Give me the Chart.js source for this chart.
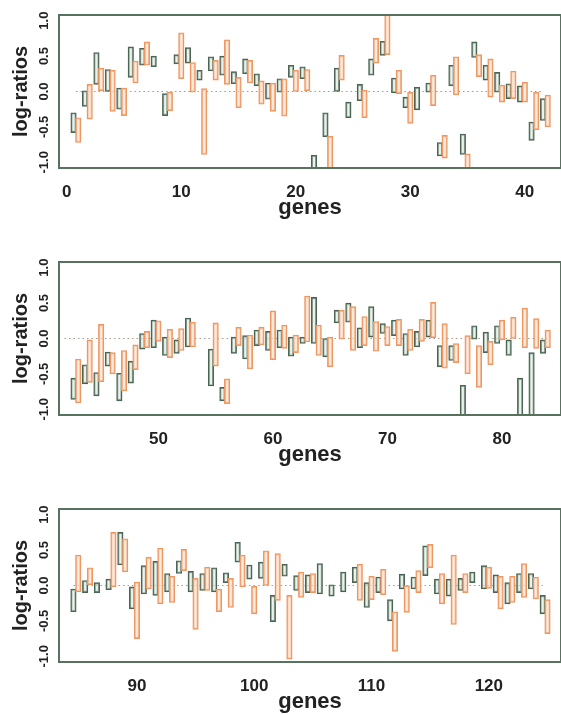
<!DOCTYPE html>
<html>
<head>
<meta charset="utf-8">
<title>log-ratios by gene</title>
<style>
  html, body { margin: 0; padding: 0; background: #fff; }
  .panel { position: absolute; left: 0; }
</style>
</head>
<body>
<canvas id="p1" class="panel" style="top:0px" width="561" height="221"></canvas>
<canvas id="p2" class="panel" style="top:247px" width="561" height="221"></canvas>
<canvas id="p3" class="panel" style="top:494px" width="561" height="221"></canvas>

<script src="https://cdn.jsdelivr.net/npm/chart.js"></script>
<script>
// first gene of each panel; genes run on consecutively
const firstGene = [1, 43, 85];

// y tick labels (all panels)
const yTicks = [-1, -0.5, 0, 0.5, 1];

// x tick labels per panel
const xTicks1 = [0, 10, 20, 30, 40];
const xTicks2 = [50, 60, 70, 80];
const xTicks3 = [90, 100, 110, 120];

// dotted zero line, from / to (gene units)
const zeroFrom = [0.8, 41.8, 84.6];
const zeroTo = [41.6, 84.0, 124.6];

// panel 1, genes 1-42: [low, high] log-ratio boxes
const green1 = [
  [-0.58, -0.30], [-0.21, 0.01], [0.10, 0.55], [0.00, 0.31], [-0.25, 0.05],
  [0.20, 0.63], [0.37, 0.61], [0.35, 0.50], [-0.34, -0.03], [0.39, 0.52],
  [0.40, 0.62], [0.16, 0.30], [0.29, 0.49], [0.23, 0.50], [0.11, 0.28],
  [0.25, 0.46], [0.08, 0.25], [-0.11, 0.12], [-0.01, 0.18], [0.20, 0.37],
  [0.18, 0.35], [-1.20, -0.90], [-0.64, -0.30], [0.00, 0.33], [-0.37, -0.15],
  [-0.13, 0.10], [0.23, 0.46], [0.51, 0.71], [-0.02, 0.19], [-0.23, -0.08],
  [-0.26, 0.06], [-0.01, 0.12], [-0.91, -0.72], [0.08, 0.37], [-0.89, -0.60],
  [0.48, 0.70], [0.16, 0.37], [-0.01, 0.27], [-0.10, 0.11], [-0.15, 0.08],
  [-0.69, -0.43], [-0.41, -0.10]
];
const orange1 = [
  [-0.72, -0.37], [-0.39, 0.10], [0.01, 0.33], [-0.28, 0.30], [-0.34, 0.05],
  [0.12, 0.43], [0.37, 0.70], null, [-0.27, -0.01], [0.18, 0.83],
  [-0.01, 0.41], [-0.89, 0.04], [0.16, 0.44], [0.10, 0.73], [-0.23, 0.20],
  [0.12, 0.44], [-0.18, 0.15], [-0.28, 0.12], [-0.35, 0.18], [0.00, 0.30],
  [0.01, 0.31], null, [-1.20, -0.63], [0.16, 0.51], null,
  [-0.37, 0.02], [0.40, 0.75], [0.52, 1.20], [-0.03, 0.30], [-0.45, -0.01],
  null, [-0.20, 0.23], [-0.94, -0.62], [-0.05, 0.49], [-1.20, -0.88],
  [0.21, 0.52], [-0.08, 0.46], [-0.15, 0.09], [-0.10, 0.29], [-0.15, 0.13],
  [-0.54, -0.01], [-0.50, -0.05]
];

// panel 2, genes 43-84
const green2 = [
  [-0.86, -0.56], [-0.64, -0.37], [-0.81, -0.48], [-0.39, -0.19], [-0.88, -0.49],
  [-0.63, -0.32], [-0.15, 0.07], [-0.13, 0.26], [-0.24, 0.02], [-0.21, -0.02],
  [-0.12, 0.29], null, [-0.67, -0.15], [-0.88, -0.69], [-0.21, 0.02],
  [-0.29, 0.04], [-0.10, 0.12], [-0.17, 0.10], [-0.13, 0.12], [-0.25, 0.02],
  [-0.07, 0.02], [-0.07, 0.58], [-0.26, 0.00], [0.22, 0.40], [0.23, 0.50],
  [-0.13, 0.15], [0.02, 0.45], [0.07, 0.21], [0.04, 0.26], [-0.24, 0.07],
  [-0.12, 0.10], [0.02, 0.26], [-0.40, -0.10], [-0.31, -0.10], [-1.20, -0.66],
  [-0.01, 0.18], [-0.20, 0.09], [-0.07, 0.18], [-0.24, -0.02], [-1.20, -0.56],
  [-1.20, -0.20], [-0.21, -0.02]
];
const orange2 = [
  [-0.91, -0.29], [-0.62, -0.02], [-0.61, 0.20], [-0.50, -0.20], [-0.74, -0.17],
  [-0.44, -0.09], [-0.13, 0.10], [-0.04, 0.25], [-0.27, 0.13], [-0.17, 0.14],
  [-0.12, 0.23], null, [-0.39, 0.22], [-0.92, -0.57], [-0.10, 0.16],
  [-0.43, 0.05], [-0.09, 0.16], [-0.30, 0.39], [-0.14, 0.19], [-0.20, 0.05],
  [-0.05, 0.60], [-0.24, 0.19], [-0.40, 0.02], [-0.01, 0.40], [-0.17, 0.45],
  [-0.10, 0.31], [-0.18, 0.24], [-0.10, 0.17], [-0.10, 0.27], [-0.17, 0.13],
  [-0.04, 0.27], [0.01, 0.51], [-0.42, 0.21], [-0.34, -0.07], [-0.50, 0.04],
  [-0.69, -0.10], [-0.37, -0.04], [-0.02, 0.26], [0.00, 0.30], [-0.13, 0.43],
  [-0.14, 0.28], [-0.13, 0.12]
];

// panel 3, genes 85-125
const green3 = [
  [-0.37, -0.05], [-0.10, 0.07], [-0.10, 0.04], [-0.06, 0.09], [0.29, 0.75],
  [-0.33, -0.02], [-0.12, 0.28], [-0.14, 0.34], [-0.09, 0.17], [0.17, 0.35],
  [-0.09, 0.20], [-0.07, 0.17], [-0.09, 0.25], [0.04, 0.18], [0.33, 0.61],
  [0.09, 0.29], [0.10, 0.33], [-0.51, -0.14], [0.13, 0.30], [-0.07, 0.14],
  [-0.10, 0.15], [-0.12, 0.31], [-0.15, 0.01], [-0.09, 0.19], [0.04, 0.26],
  [-0.31, 0.04], [-0.10, 0.12], [-0.50, -0.20], [-0.05, 0.16], [-0.05, 0.12],
  [0.14, 0.56], [-0.12, 0.09], [-0.15, 0.09], [-0.07, 0.10], [0.04, 0.19],
  [-0.05, 0.28], [-0.10, 0.15], [-0.26, 0.04], [-0.10, 0.17], [-0.05, 0.17],
  [-0.40, -0.14]
];
const orange3 = [
  [-0.09, 0.43], [0.01, 0.25], null, [-0.02, 0.75], [0.19, 0.66],
  [-0.75, 0.05], [-0.05, 0.40], [-0.26, 0.53], [-0.24, 0.13], [0.21, 0.51],
  [-0.62, 0.10], [-0.07, 0.26], [-0.37, -0.05], [-0.31, 0.10], [-0.02, 0.43],
  [-0.40, -0.01], [0.00, 0.49], [-0.21, 0.45], [-1.04, -0.14], [-0.17, 0.19],
  [-0.10, 0.17], null, null, null, [-0.21, 0.30],
  [-0.20, 0.13], [-0.13, 0.23], [-0.93, -0.37], [-0.38, 0.00], [-0.10, 0.21],
  [0.25, 0.58], [-0.26, 0.17], [-0.55, 0.43], [-0.10, 0.17], null,
  [-0.04, 0.26], [-0.33, 0.13], [-0.24, 0.13], [-0.17, 0.31], [-0.19, 0.12],
  [-0.68, -0.20]
];

Chart.defaults.font.family = '"Liberation Sans", Arial, Helvetica, sans-serif';
Chart.defaults.color = '#222';

// box round the plot region
const framePlugin = {
  id: 'frame',
  afterDatasetsDraw(chart) {
    const { ctx, chartArea: a } = chart;
    ctx.save();
    ctx.strokeStyle = '#587260';
    ctx.lineWidth = 2;
    ctx.strokeRect(a.left, a.top, a.right - a.left, a.bottom - a.top);
    ctx.restore();
  }
};

function toPoints(start, boxes, shift) {
  const pts = [];
  boxes.forEach((b, i) => {
    if (b) pts.push({ x: start + i + shift, y: b });
  });
  return pts;
}

function makePanel(id, k, green, orange, xTicks, xMin, xMax) {
  const start = firstGene[k];
  new Chart(document.getElementById(id), {
    type: 'bar',
    data: {
      datasets: [
        {
          type: 'line',
          data: [{ x: zeroFrom[k], y: 0 }, { x: zeroTo[k], y: 0 }],
          borderColor: '#a8998a',
          borderWidth: 1.2,
          borderDash: [1.5, 3],
          pointRadius: 0,
          fill: false,
          order: 5
        },
        {
          data: toPoints(start, green, -0.41),
          backgroundColor: 'rgba(222, 233, 224, 0.6)',
          borderColor: '#4a6553',
          borderWidth: 1.4,
          borderSkipped: false,
          grouped: false,
          barThickness: 5.5,
          order: 2
        },
        {
          data: toPoints(start, orange, 0),
          backgroundColor: 'rgba(252, 224, 205, 0.65)',
          borderColor: '#ee9762',
          borderWidth: 1.4,
          borderSkipped: false,
          grouped: false,
          barThickness: 5.5,
          order: 1
        }
      ]
    },
    options: {
      responsive: false,
      animation: false,
      layout: { padding: { top: 15, right: 0, bottom: 0, left: 0 } },
      plugins: { legend: { display: false }, tooltip: { enabled: false } },
      scales: {
        x: {
          type: 'linear',
          min: xMin,
          max: xMax,
          offset: false,
          afterBuildTicks: s => { s.ticks = xTicks.map(v => ({ value: v })); },
          afterFit: s => { s.height = 53; },
          grid: { display: false, drawTicks: false },
          border: { display: false },
          ticks: {
            padding: 14,
            autoSkip: false,
            maxRotation: 0,
            font: { size: 17, weight: 'bold' },
            color: '#222'
          },
          title: {
            display: true,
            text: 'genes',
            font: { size: 22, weight: 'bold' },
            padding: { top: 0, bottom: 0 },
            color: '#222'
          }
        },
        y: {
          min: -1.08,
          max: 1.08,
          afterBuildTicks: s => { s.ticks = yTicks.map(v => ({ value: v })); },
          afterFit: s => { s.width = 59; },
          grid: { display: false, drawTicks: false },
          border: { display: false },
          ticks: {
            minRotation: 90,
            maxRotation: 90,
            crossAlign: 'center',
            padding: 3,
            font: { size: 13, weight: 'bold' },
            color: '#222',
            callback: v => Number(v).toFixed(1)
          },
          title: {
            display: true,
            text: 'log-ratios',
            font: { size: 20, weight: 'bold' },
            padding: { top: 9, bottom: 0 },
            color: '#222'
          }
        }
      }
    },
    plugins: [framePlugin]
  });
}

makePanel('p1', 0, green1, orange1, xTicks1, -0.68, 43.16);
makePanel('p2', 1, green2, orange2, xTicks2, 41.32, 85.16);
makePanel('p3', 2, green3, orange3, xTicks3, 83.36, 126.15);
</script>
</body>
</html>
